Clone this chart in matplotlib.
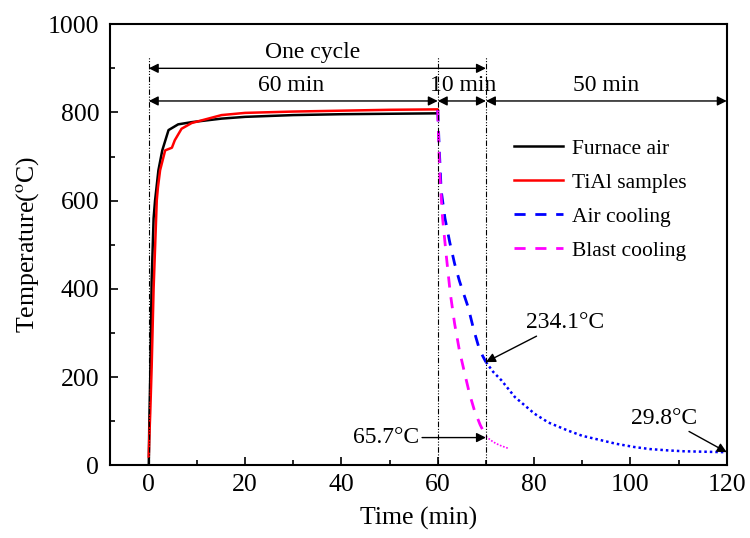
import numpy as np
import matplotlib
matplotlib.use("Agg")
import matplotlib.pyplot as plt
from matplotlib.ticker import MultipleLocator
from matplotlib.lines import Line2D

plt.rcParams['font.family'] = ['Liberation Serif', 'DejaVu Serif']
plt.rcParams['mathtext.fontset'] = 'stix'

# furnace air (heating stage)
furnace_t = [0, 0.1, 0.3, 0.6, 1.0, 1.3, 2.0, 2.8, 4.1, 6.1, 8.9, 15.1, 20, 30, 40, 50, 60]
furnace_T = [0, 90, 200, 420, 560, 600, 669, 714, 760, 773, 778, 786, 790, 794, 796, 797, 798]

# TiAl samples (heating stage)
tial_t = [0, 0.1, 0.3, 0.6, 1.0, 1.66, 1.9, 2.35, 3.4, 4.8, 5.4, 6.8, 8.9, 15.1, 20, 30, 40, 50, 60, 60.05]
tial_T = [20, 60, 118, 223, 400, 601, 630, 669, 714, 720, 737, 763, 776, 794, 799, 802, 804, 806, 807, 805]

# air cooling (dashed in furnace window, dotted after)
air_t = [60, 60.3, 60.7, 61.5, 62.5, 63.5, 64.5, 65.5, 66.3, 67.5, 68.7, 70]
air_T = [805, 720, 624, 560, 505, 457, 418, 385, 359, 306, 261, 234.1]
air2_t = [70, 71.5, 73.2, 76, 80.1, 83, 87, 90, 93.9, 97, 100.8, 104, 107.7, 111, 115, 120]
air2_T = [234.1, 212, 193, 155, 117, 97, 79, 67, 57, 49, 41.6, 37, 34, 32, 31, 29.8]

# blast cooling
blast_t = [60, 60.4, 61.0, 61.8, 62.6, 63.5, 64.5, 65.6, 66.6, 67.6, 68.8, 70]
blast_T = [805, 661, 560, 472, 390, 321, 260, 208, 162, 125, 92, 65.7]
blast2_t = [70, 71, 72, 73, 74, 74.8]
blast2_T = [65.7, 57, 50, 45, 41, 38]

labels = ['Furnace air', 'TiAl samples', 'Air cooling', 'Blast cooling']

fig, ax = plt.subplots(figsize=(7.5, 5.38), dpi=100)
fig.subplots_adjust(left=0.147, right=0.969, top=0.955, bottom=0.135)

dash = (0, (4, 3.5))
ax.plot(furnace_t, furnace_T, color='black', lw=1.8)
ax.plot(tial_t, tial_T, color='red', lw=1.8)
ax.plot(air_t, air_T, color='blue', lw=2, ls=dash)
ax.plot(blast_t, blast_T, color='magenta', lw=2, ls=dash)
ax.plot(air2_t, air2_T, color='blue', lw=1.8, ls=(0, (1, 1.2)))
ax.plot(blast2_t, blast2_T, color='magenta', lw=1.2, ls=(0, (1, 1)))

# period boundaries
for xv in [0, 60, 70]:
    ax.plot([xv, xv], [0, 925], color='black', lw=0.8, ls=(0, (5, 1.5, 1, 1.5, 1, 1.5)))

# span arrows
arr = dict(arrowstyle='<|-|>', color='black', lw=1, mutation_scale=14, shrinkA=0, shrinkB=0)
ax.annotate('', xy=(0, 900), xytext=(70, 900), arrowprops=arr)
ax.annotate('', xy=(0, 826), xytext=(60, 826), arrowprops=arr)
ax.annotate('', xy=(60, 826), xytext=(70, 826), arrowprops=arr)
ax.annotate('', xy=(70, 826), xytext=(120, 826), arrowprops=arr)
ax.text(34, 935, 'One cycle', ha='center', va='center', fontsize=17)
ax.text(29.5, 860, '60 min', ha='center', va='center', fontsize=17)
ax.text(65.3, 860, '10 min', ha='center', va='center', fontsize=17)
ax.text(95, 860, '50 min', ha='center', va='center', fontsize=17)

# temperature callouts
pt = dict(arrowstyle='-|>', color='black', lw=1, mutation_scale=14, shrinkA=0, shrinkB=0)
ax.annotate('234.1°C', xy=(70, 234.1), xytext=(86.5, 323), ha='center', va='center',
            fontsize=17, arrowprops=dict(pt, relpos=(0.2, 0)))
ax.annotate('29.8°C', xy=(120, 29.8), xytext=(107, 107), ha='center', va='center',
            fontsize=17, arrowprops=dict(pt, relpos=(0.8, 0)))
ax.annotate('65.7°C', xy=(70, 63), xytext=(49.3, 63), ha='center', va='center',
            fontsize=17, arrowprops=dict(pt, relpos=(1, 0.5)))

ax.set_xlim(-8, 120)
ax.set_ylim(0, 1000)
ax.xaxis.set_major_locator(MultipleLocator(20))
ax.xaxis.set_minor_locator(MultipleLocator(10))
ax.yaxis.set_major_locator(MultipleLocator(200))
ax.yaxis.set_minor_locator(MultipleLocator(100))
ax.tick_params(which='both', direction='in', labelsize=18.5, width=1.2)
ax.tick_params(which='major', length=6)
ax.tick_params(which='minor', length=3.5)
ax.tick_params(axis='x', pad=6)
ax.tick_params(axis='y', pad=8)
for s in ax.spines.values():
    s.set_linewidth(1.5)

ax.set_xlabel('Time (min)', fontsize=18.5, labelpad=8)
ax.set_ylabel('Temperature($^{\\mathrm{o}}$C)', fontsize=18.5, labelpad=5)

handles = [Line2D([], [], color='black', lw=1.8),
           Line2D([], [], color='red', lw=1.8),
           Line2D([], [], color='blue', lw=2, ls=dash),
           Line2D([], [], color='magenta', lw=2, ls=dash)]
ax.legend(handles, labels, loc='upper left', bbox_to_anchor=(0.623, 0.785), frameon=False,
          fontsize=15.5, handlelength=2.3, handletextpad=0.4, labelspacing=0.65)

fig.savefig('out.png', dpi=100)
